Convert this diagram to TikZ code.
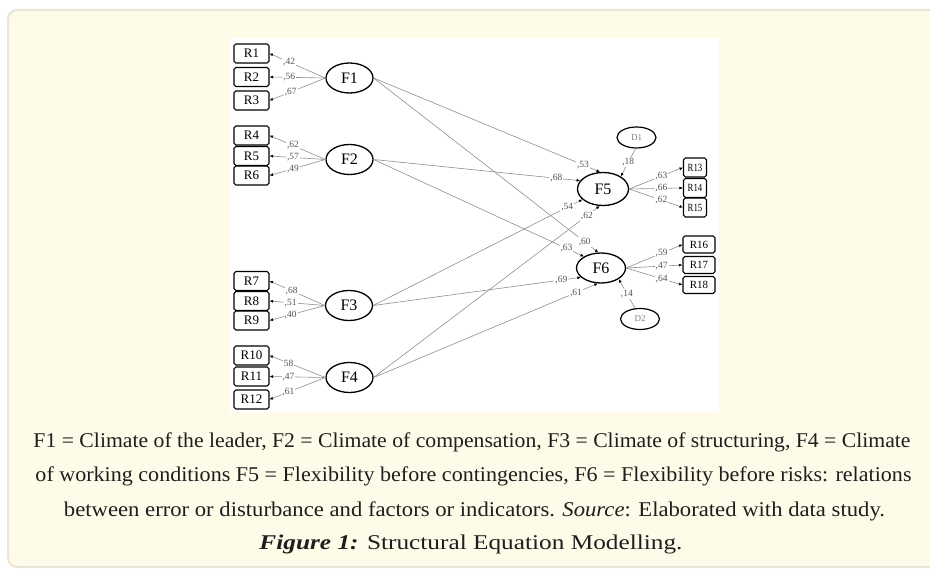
\documentclass[tikz,border=0pt]{standalone}
\usepackage{fontspec}
\usepackage{graphicx}
\setmainfont{Liberation Serif}
\usetikzlibrary{shapes.geometric,arrows.meta}
\definecolor{cardbg}{HTML}{FFFBE9}
\definecolor{cardline}{HTML}{E9E6D8}
\definecolor{pathgray}{HTML}{8E8E8E}
\definecolor{labgray}{HTML}{555555}
\definecolor{captxt}{HTML}{1E1E1E}
\tikzset{
  rbox/.style={draw=black, line width=1.1pt, rounded corners=1.8pt, minimum width=35pt, minimum height=19pt, inner sep=0pt, font=\fontsize{13}{13}\selectfont},
  rboxs/.style={rbox, minimum width=23pt, minimum height=19pt, font=\fontsize{11}{11}\selectfont},
  rboxm/.style={rbox, minimum width=32pt, minimum height=17pt, font=\fontsize{11}{11}\selectfont},
  lat/.style={ellipse, draw=black, line width=1.3pt, minimum width=47pt, minimum height=30pt, inner sep=0pt, font=\fontsize{16}{16}\selectfont},
  dist/.style={ellipse, draw=black, line width=1.2pt, minimum width=39pt, minimum height=21pt, inner sep=0pt, text=gray, font=\fontsize{9}{9}\selectfont},
  con/.style={draw=pathgray, line width=0.6pt, -{Latex[length=3.5pt,width=3pt,color=black]}},
  lab/.style={fill=white, inner sep=1pt, text=labgray, font=\fontsize{9.5}{9.5}\selectfont},
  capline/.style={text=captxt, anchor=base, inner sep=0pt, font=\fontsize{21}{21}\selectfont}
}
\begin{document}
\begin{tikzpicture}[x=1pt,y=-1pt]
\useasboundingbox (0,0) rectangle (930,569);
\fill[white] (0,0) rectangle (930,569);
\draw[cardline, line width=2pt, fill=cardbg, rounded corners=9pt] (8,10) rectangle (950,567);
\fill[white] (230,38) rectangle (719,412);

% indicator boxes left
\node[rbox] (R1) at (251.5,53.5) {R1};
\node[rbox] (R2) at (251.5,77) {R2};
\node[rbox] (R3) at (251.5,100.5) {R3};
\node[rbox] (R4) at (251.5,135.5) {R4};
\node[rbox] (R5) at (251.5,156) {R5};
\node[rbox] (R6) at (251.5,175.5) {R6};
\node[rbox] (R7) at (251.5,281) {R7};
\node[rbox] (R8) at (251.5,301) {R8};
\node[rbox] (R9) at (251.5,320.5) {R9};
\node[rbox] (R10) at (251.5,355.5) {R10};
\node[rbox] (R11) at (251.5,376.5) {R11};
\node[rbox] (R12) at (251.5,399.5) {R12};

% latent factors
\node[lat] (F1) at (349.5,78) {F1};
\node[lat] (F2) at (349.5,159.5) {F2};
\node[lat] (F3) at (349,305.5) {F3};
\node[lat] (F4) at (349.5,377.5) {F4};
\node[lat, minimum width=51pt, minimum height=33pt] (F5) at (603,189) {F5};
\node[lat, minimum width=49pt, minimum height=30pt] (F6) at (601,268) {F6};

% disturbances
\node[dist] (D1) at (636.5,137.5) {D1};
\node[dist] (D2) at (640,319) {D2};

% indicator boxes right
\node[rboxs] (R13) at (695,167.5) {\scalebox{0.8}[1]{R13}};
\node[rboxs] (R14) at (695,188) {\scalebox{0.8}[1]{R14}};
\node[rboxs] (R15) at (695,207.5) {\scalebox{0.8}[1]{R15}};
\node[rboxm] (R16) at (699,244.5) {R16};
\node[rboxm] (R17) at (699,265) {R17};
\node[rboxm] (R18) at (699,285) {R18};

% measurement paths left
\draw[con] (F1.west) -- node[lab,pos=0.65]{,42} (R1.east);
\draw[con] (F1.west) -- node[lab,pos=0.65]{,56} (R2.east);
\draw[con] (F1.west) -- node[lab,pos=0.62]{,67} (R3.east);
\draw[con] (F2.west) -- node[lab,pos=0.58]{,62} (R4.east);
\draw[con] (F2.west) -- node[lab,pos=0.58]{,57} (R5.east);
\draw[con] (F2.west) -- node[lab,pos=0.58]{,49} (R6.east);
\draw[con] (F3.west) -- node[lab,pos=0.6]{,68} (R7.east);
\draw[con] (F3.west) -- node[lab,pos=0.62]{,51} (R8.east);
\draw[con] (F3.west) -- node[lab,pos=0.62]{,40} (R9.east);
\draw[con] (F4.west) -- node[lab,pos=0.66]{58} (R10.east);
\draw[con] (F4.west) -- node[lab,pos=0.66]{,47} (R11.east);
\draw[con] (F4.west) -- node[lab,pos=0.66]{,61} (R12.east);

% structural paths
\draw[con] (F1.east) -- node[lab,pos=0.925]{,53} (F5.100);
\draw[con] (F2.east) -- node[lab,pos=0.885]{,68} (F5.160);
\draw[con] (F3.east) -- node[lab,pos=0.928]{,54} (F5.207);
\draw[con] (F4.east) -- node[lab,pos=0.943]{,62} (F5.259);
\draw[con] (F1.east) -- node[lab,pos=0.94]{,60} (F6.100);
\draw[con] (F2.east) -- node[lab,pos=0.917]{,63} (F6.146);
\draw[con] (F3.east) -- node[lab,pos=0.906]{,69} (F6.205);
\draw[con] (F4.east) -- node[lab,pos=0.903]{,61} (F6.258);

% disturbances to factors
\draw[con] (D1.265) -- node[lab,pos=0.5]{,18} (F5.35);
\draw[con] (D2.115) -- node[lab,pos=0.5]{,14} (F6.328);

% measurement paths right
\draw[con] (F5.east) -- node[lab,pos=0.6]{,63} (R13.west);
\draw[con] (F5.east) -- node[lab,pos=0.6]{,66} (R14.west);
\draw[con] (F5.east) -- node[lab,pos=0.6]{,62} (R15.west);
\draw[con] (F6.east) -- node[lab,pos=0.63]{,59} (R16.west);
\draw[con] (F6.east) -- node[lab,pos=0.63]{,47} (R17.west);
\draw[con] (F6.east) -- node[lab,pos=0.63]{,64} (R18.west);

% caption
\node[capline] (c1) at (472,448) {\resizebox{877pt}{\height}{F1 = Climate of the leader, F2 = Climate of compensation, F3 = Climate of structuring, F4 = Climate}};
\node[capline] (c2) at (473.5,482) {\resizebox{876pt}{\height}{of working conditions F5 = Flexibility before contingencies, F6 = Flexibility before risks: relations}};
\node[capline] (c3) at (474.5,516) {\resizebox{821pt}{\height}{between error or disturbance and factors or indicators. \textit{Source}: Elaborated with data study.}};
\node[capline] (c4) at (471,550) {\resizebox{423pt}{\height}{\textbf{\textit{Figure 1:}} Structural Equation Modelling.}};
\end{tikzpicture}
\end{document}
